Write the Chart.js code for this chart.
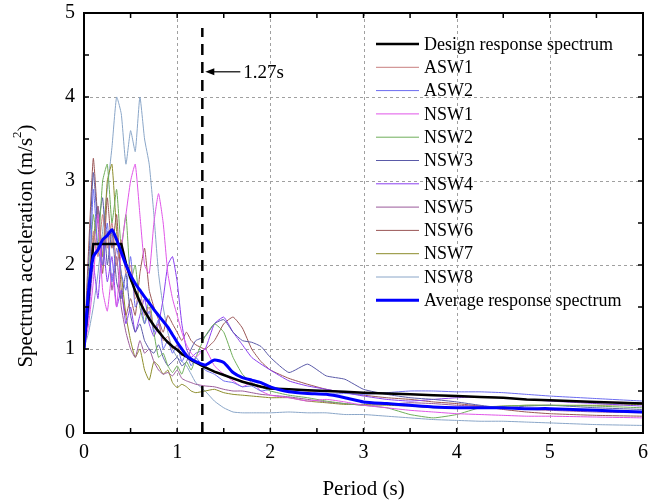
<!DOCTYPE html>
<html>
<head>
<meta charset="utf-8">
<script src="https://cdn.jsdelivr.net/npm/chart.js@4"></script>
<style>
  html, body { margin: 0; background: #fff; }
  #wrap { width: 648px; height: 504px; }
</style>
</head>
<body>
<div id="wrap"><canvas id="c"></canvas></div>
<script>
// periods (s) shared by every spectrum
const periods = [0,0.05,0.1,0.15,0.2,0.25,0.3,0.35,0.4,0.45,0.5,0.55,0.6,0.65,0.7,0.75,0.8,0.85,0.9,0.95,1.0,1.05,1.1,1.15,1.2,
  1.3,1.4,1.5,1.6,1.7,1.8,1.9,2.0,
  2.2,2.4,2.6,2.8,3.0,
  3.25,3.5,3.75,4.0,4.25,4.5,4.75,5.0,
  5.5,6.0];

const design = [1.0,1.63,2.25,2.25,2.25,2.25,2.25,2.25,2.25,2.02,1.84,1.69,1.56,1.45,1.36,1.28,1.21,1.14,1.08,1.03,0.99,0.94,0.91,0.87,0.84,
  0.78,0.73,0.69,0.65,0.61,0.58,0.55,0.53,
  0.52,0.51,0.50,0.49,0.48,
  0.47,0.46,0.45,0.44,0.43,0.42,0.40,0.39,
  0.37,0.35];

const average = [1.0,1.7,2.1,2.18,2.3,2.35,2.42,2.3,2.15,2.0,1.88,1.78,1.7,1.62,1.55,1.47,1.4,1.33,1.26,1.17,1.08,1.0,0.92,0.88,0.85,
  0.81,0.87,0.84,0.72,0.66,0.63,0.6,0.55,
  0.49,0.47,0.46,0.42,0.37,
  0.35,0.33,0.31,0.3,0.3,0.3,0.29,0.29,
  0.27,0.25];

const asw1 = [1.0,1.7,2.4,2.1,2.6,2.2,2.5,2.0,2.3,1.9,2.0,1.6,1.7,1.4,1.5,1.25,1.3,1.1,1.15,1.0,1.05,0.92,0.95,0.85,0.86,
  0.8,0.72,0.7,0.64,0.62,0.58,0.56,0.53,
  0.52,0.5,0.5,0.49,0.48,
  0.47,0.46,0.45,0.44,0.43,0.42,0.4,0.39,
  0.37,0.36];

const asw2 = [1.0,1.5,2.9,2.2,2.0,2.5,1.8,2.2,1.9,1.7,2.1,1.5,1.6,1.3,1.45,1.2,1.35,1.0,1.1,0.95,1.05,0.85,0.95,0.8,0.9,
  0.75,0.7,0.62,0.6,0.55,0.56,0.5,0.52,
  0.5,0.47,0.46,0.47,0.46,
  0.48,0.5,0.5,0.49,0.49,0.48,0.46,0.44,
  0.41,0.38];

const nsw1 = [1.0,1.3,1.8,2.6,1.7,1.45,1.9,1.5,2.2,2.6,3.0,3.2,2.6,2.0,1.9,2.5,2.85,2.5,1.9,1.6,1.4,1.2,1.05,0.95,0.9,
  1.0,0.8,0.7,0.62,0.55,0.6,0.5,0.45,
  0.42,0.38,0.4,0.37,0.33,
  0.3,0.27,0.25,0.23,0.22,0.21,0.2,0.2,
  0.19,0.18];

const nsw2 = [1.0,1.8,2.6,2.2,3.0,3.2,2.5,2.9,2.2,2.6,1.8,2.0,1.5,1.3,1.6,1.2,0.9,0.95,0.8,0.72,0.8,0.7,0.85,0.75,0.9,
  1.15,1.3,1.2,0.9,0.7,0.6,0.55,0.5,
  0.45,0.42,0.38,0.35,0.33,
  0.3,0.22,0.18,0.22,0.3,0.32,0.33,0.33,
  0.32,0.3];

const nsw3 = [1.0,2.0,3.1,2.5,2.8,2.0,2.4,1.8,1.6,1.9,1.4,1.2,1.3,1.1,1.0,0.95,1.05,0.9,0.8,0.85,0.9,0.8,0.85,1.0,1.1,
  1.15,1.3,1.35,1.2,1.1,1.08,1.03,0.9,
  0.72,0.82,0.68,0.64,0.52,
  0.46,0.42,0.4,0.37,0.33,0.3,0.32,0.33,
  0.3,0.28];

const nsw4 = [1.0,1.4,2.0,1.6,2.3,1.8,2.1,1.5,1.7,1.3,1.5,1.2,1.4,1.6,1.3,1.15,1.3,1.6,2.0,2.1,1.8,1.3,1.0,0.9,0.95,
  1.0,1.3,1.38,1.2,1.05,0.9,0.82,0.75,
  0.62,0.56,0.52,0.48,0.44,
  0.4,0.38,0.4,0.42,0.43,0.42,0.4,0.38,
  0.35,0.32];

const nsw5 = [1.0,1.6,2.2,2.7,2.0,2.4,1.7,2.1,1.5,1.2,1.0,0.9,1.1,0.95,1.0,0.85,0.75,0.7,0.72,0.68,0.75,0.65,0.62,0.6,0.58,
  0.56,0.55,0.52,0.5,0.5,0.48,0.46,0.45,
  0.43,0.4,0.37,0.35,0.33,
  0.34,0.36,0.35,0.33,0.32,0.3,0.28,0.27,
  0.25,0.24];

const nsw6 = [1.0,2.2,3.27,2.5,1.9,2.8,2.2,2.6,1.7,1.4,1.6,1.4,1.9,2.2,1.7,1.5,1.35,1.2,1.4,1.3,1.2,1.1,1.2,1.1,1.05,
  1.0,1.1,1.3,1.38,1.25,1.0,0.85,0.75,
  0.65,0.58,0.52,0.48,0.45,
  0.42,0.4,0.37,0.35,0.32,0.28,0.25,0.23,
  0.21,0.2];

const nsw7 = [1.0,1.5,2.3,2.7,2.1,3.0,3.2,2.4,1.9,1.4,1.1,0.9,1.0,0.75,0.63,0.85,0.8,0.7,0.75,0.6,0.54,0.58,0.55,0.5,0.48,
  0.5,0.52,0.48,0.46,0.45,0.44,0.43,0.42,
  0.42,0.38,0.36,0.34,0.34,
  0.33,0.32,0.3,0.3,0.31,0.32,0.33,0.33,
  0.33,0.34];

const nsw8 = [1.0,1.2,1.5,1.9,2.4,2.9,3.4,4.0,3.8,3.2,3.6,3.35,4.0,3.5,3.2,2.6,1.9,1.5,1.2,1.0,0.9,0.85,0.8,0.7,0.6,
  0.5,0.38,0.3,0.25,0.24,0.24,0.24,0.24,
  0.25,0.24,0.24,0.22,0.22,
  0.2,0.18,0.16,0.15,0.14,0.14,0.13,0.12,
  0.1,0.09];

const recordNames = ["ASW1", "ASW2", "NSW1", "NSW2", "NSW3", "NSW4", "NSW5", "NSW6", "NSW7", "NSW8"];
const recordValues = [asw1, asw2, nsw1, nsw2, nsw3, nsw4, nsw5, nsw6, nsw7, nsw8];
const recordColors = ["#c87f7f", "#6b6bf0", "#e055e8", "#6fae5a", "#5a5aa8", "#8a3ff0", "#9a5a9a", "#9a5555", "#8c8c2a", "#8aa6c8"];

const markT = 1.27;
const SERIF = "'Liberation Serif', 'Times New Roman', serif";

const pts = vals => periods.map((t, i) => ({ x: t, y: vals[i] }));

const datasets = [];
datasets.push({ label: "Design response spectrum", data: pts(design), borderColor: "#000", borderWidth: 2.5, order: 1, tension: 0 });
recordNames.forEach((n, i) => {
  datasets.push({ label: n, data: pts(recordValues[i]), borderColor: recordColors[i], borderWidth: 1, order: 2, tension: 0.15 });
});
datasets.push({ label: "Average response spectrum", data: pts(average), borderColor: "#0000ff", borderWidth: 3, order: 0, tension: 0.2 });

function seg(ctx, x1, y1, x2, y2) {
  ctx.beginPath(); ctx.moveTo(x1, y1); ctx.lineTo(x2, y2); ctx.stroke();
}

const decor = {
  id: "decor",
  beforeDatasetsDraw(chart) {
    const { ctx, chartArea: a, scales: { x, y } } = chart;
    ctx.save();
    ctx.strokeStyle = "#a0a0a0";
    ctx.lineWidth = 1;
    ctx.setLineDash([3, 3]);
    for (let v = 1; v < 6; v++) {
      const px = Math.round(x.getPixelForValue(v)) + 0.5;
      seg(ctx, px, a.top, px, a.bottom);
    }
    for (let v = 1; v < 5; v++) {
      const py = Math.round(y.getPixelForValue(v)) + 0.5;
      seg(ctx, a.left, py, a.right, py);
    }
    ctx.restore();
  },
  afterDatasetsDraw(chart) {
    const { ctx, chartArea: a, scales: { x, y } } = chart;
    ctx.save();

    // 1.27 s marker
    const mx = x.getPixelForValue(markT);
    ctx.strokeStyle = "#000";
    ctx.lineWidth = 2.5;
    ctx.setLineDash([11, 7]);
    seg(ctx, mx, y.getPixelForValue(0), mx, y.getPixelForValue(4.82));
    ctx.setLineDash([]);

    // arrow + label
    const ay = y.getPixelForValue(4.3);
    ctx.lineWidth = 1.2;
    seg(ctx, mx + 10, ay, mx + 38, ay);
    ctx.beginPath();
    ctx.moveTo(mx + 3, ay);
    ctx.lineTo(mx + 12, ay - 3.5);
    ctx.lineTo(mx + 12, ay + 3.5);
    ctx.closePath();
    ctx.fillStyle = "#000";
    ctx.fill();
    ctx.font = "19px " + SERIF;
    ctx.textBaseline = "middle";
    ctx.textAlign = "left";
    ctx.fillText(markT + "s", mx + 41, ay + 1);

    // frame
    ctx.lineWidth = 2;
    ctx.strokeRect(a.left, a.top, a.right - a.left, a.bottom - a.top);

    // inward ticks on all sides
    ctx.lineWidth = 1.5;
    const tl = 5;
    const xt = [];
    for (let v = 0.5; v < 6; v += 0.5) xt.push(v);
    xt.push(markT);
    xt.forEach(v => {
      const px = x.getPixelForValue(v);
      seg(ctx, px, a.bottom, px, a.bottom - tl);
      if (v !== markT) seg(ctx, px, a.top, px, a.top + tl);
    });
    for (let v = 0.5; v < 5; v += 0.5) {
      const py = y.getPixelForValue(v);
      seg(ctx, a.left, py, a.left + tl, py);
      seg(ctx, a.right, py, a.right - tl, py);
    }

    // legend
    ctx.font = "18px " + SERIF;
    ctx.textBaseline = "middle";
    chart.data.datasets.forEach((ds, r) => {
      const ly = 44 + r * 23.3;
      ctx.strokeStyle = ds.borderColor;
      ctx.lineWidth = ds.borderWidth;
      seg(ctx, 376, ly, 419, ly);
      ctx.fillStyle = "#000";
      ctx.fillText(ds.label, 424, ly + 1);
    });

    // y axis title with superscript
    ctx.translate(26, 246);
    ctx.rotate(-Math.PI / 2);
    const main = "Spectrum acceleration (m/s";
    ctx.font = "21px " + SERIF;
    const w1 = ctx.measureText(main).width;
    const w3 = ctx.measureText(")").width;
    ctx.font = "13px " + SERIF;
    const w2 = ctx.measureText("2").width;
    const sx = -(w1 + w2 + w3) / 2;
    ctx.fillStyle = "#000";
    ctx.textAlign = "left";
    ctx.textBaseline = "middle";
    ctx.font = "21px " + SERIF;
    ctx.fillText(main, sx, 0);
    ctx.font = "13px " + SERIF;
    ctx.fillText("2", sx + w1, -8);
    ctx.font = "21px " + SERIF;
    ctx.fillText(")", sx + w1 + w2, 0);
    ctx.restore();
  }
};

new Chart(document.getElementById("c"), {
  type: "scatter",
  data: { datasets: datasets },
  options: {
    responsive: true,
    maintainAspectRatio: false,
    animation: false,
    devicePixelRatio: 1,
    showLine: true,
    layout: { padding: { top: 13, right: 5, left: 0, bottom: 0 } },
    elements: { point: { radius: 0 }, line: { fill: false } },
    plugins: { legend: { display: false }, tooltip: { enabled: false } },
    scales: {
      x: {
        type: "linear", min: 0, max: 6,
        ticks: { stepSize: 1, color: "#000", font: { family: SERIF, size: 20 }, padding: 8, maxRotation: 0 },
        grid: { display: false, drawTicks: false },
        border: { display: false },
        title: { display: true, text: "Period (s)", color: "#000", font: { family: SERIF, size: 21 }, padding: { top: 0, bottom: 2 } },
        afterFit(s) { s.height = 71; s.paddingLeft = 0; s.paddingRight = 0; }
      },
      y: {
        min: 0, max: 5,
        ticks: { stepSize: 1, color: "#000", font: { family: SERIF, size: 20 }, padding: 9 },
        grid: { display: false, drawTicks: false },
        border: { display: false },
        afterFit(s) { s.width = 84; s.paddingTop = 0; s.paddingBottom = 0; }
      }
    }
  },
  plugins: [decor]
});
</script>
</body>
</html>
